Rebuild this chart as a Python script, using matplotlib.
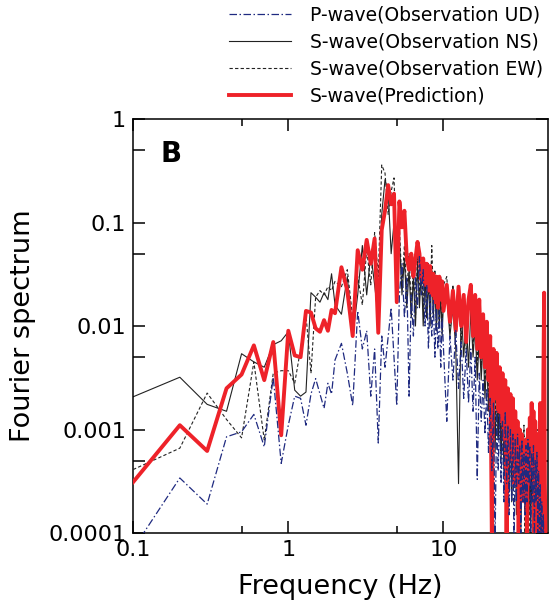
import matplotlib
matplotlib.use('Agg')
import matplotlib.pyplot as plt
from matplotlib.ticker import LogLocator, NullFormatter, FuncFormatter

plt.rcParams['font.family'] = ['DejaVu Sans']

# frequency grid (Hz)
freq_low = [0.1, 0.2, 0.3, 0.4, 0.5, 0.6, 0.7, 0.8, 0.9, 1.0,
            1.1, 1.2, 1.3, 1.4, 1.5, 1.6, 1.7, 1.8, 1.9, 2.0]
freq_mid = [2.2, 2.4, 2.6, 2.8, 3.0, 3.2, 3.4, 3.6, 3.8, 4.0,
            4.2, 4.4, 4.6, 4.8, 5.0, 5.2, 5.4, 5.6, 5.8, 6.0,
            6.2, 6.4, 6.6, 6.8, 7.0, 7.2, 7.4, 7.6, 7.8, 8.0,
            8.2, 8.4, 8.6, 8.8, 9.0, 9.2, 9.4, 9.6, 9.8, 10.0]
freq_high = [10.5, 11.0, 11.5, 12.0, 12.5, 13.0, 13.5, 14.0, 14.5, 15.0,
             15.5, 16.0, 16.5, 17.0, 17.5, 18.0, 18.5, 19.0, 19.5, 20.0,
             20.5, 21.0, 21.5, 22.0, 22.5, 23.0, 23.5, 24.0, 24.5, 25.0,
             25.5, 26.0, 26.5, 27.0, 27.5, 28.0, 28.5, 29.0, 29.5, 30.0,
             30.5, 31.0, 31.5, 32.0, 32.5, 33.0, 33.5, 34.0, 34.5, 35.0,
             35.5, 36.0, 36.5, 37.0, 37.5, 38.0, 38.5, 39.0, 39.5, 40.0,
             40.5, 41.0, 41.5, 42.0, 42.5, 43.0, 43.5, 44.0, 44.5, 45.0,
             45.5, 46.0, 46.5, 47.0, 47.5, 48.0]

# P-wave, observation UD
ud_low = [7e-5, 3.4e-4, 1.9e-4, 8.5e-4, 9.5e-4, 1.4e-3, 6.8e-4, 3.2e-3, 4.7e-4, 1.1e-3,
          2.1e-3, 2.0e-3, 1.1e-3, 2.2e-3, 3.1e-3, 2.2e-3, 1.6e-3, 2.8e-3, 2.2e-3, 4.7e-3]
ud_mid = [6.8e-3, 3.5e-3, 1.7e-3, 0.014, 0.006, 0.009, 2.1e-3, 0.006, 7.4e-4, 0.008,
          0.004, 0.0079, 0.015, 0.005, 1.7e-3, 0.02, 0.04, 0.012, 0.03, 2.1e-3,
          0.02, 0.008, 0.03, 0.015, 0.047, 0.02, 0.035, 0.01, 0.025, 0.006,
          0.02, 0.008, 0.018, 0.005, 0.015, 0.006, 0.014, 0.004, 0.012, 0.006]
ud_high = [0.0012, 0.008, 0.003, 0.009, 0.0025, 0.007, 0.002, 0.006, 0.0018, 0.006,
           0.0015, 0.005, 0.00033, 0.0035, 0.0012, 0.003, 0.0009, 0.0025, 0.0006, 0.002,
           0.0004, 0.0018, 0.00008, 0.0015, 0.0004, 0.0014, 0.0003, 0.0012, 0.0002, 0.0015,
           0.0003, 0.0011, 0.00015, 0.001, 0.0002, 0.0009, 0.00007, 0.0008, 0.0002, 0.0009,
           0.0003, 0.0007, 0.0001, 0.0008, 0.0002, 0.0006, 0.00015, 0.0007, 0.0002, 0.0008,
           0.0003, 0.0007, 0.0001, 0.0006, 0.0002, 0.0007, 0.00008, 0.0005, 0.0002, 0.0006,
           0.0001, 0.0004, 0.00007, 0.0003, 0.0001, 0.0002, 0.00007, 0.00015, 0.00006, 0.00006,
           0.00006, 0.00006, 0.00006, 0.00006, 0.00006, 0.00006]

# S-wave, observation NS
ns_low = [2.07e-3, 3.2e-3, 1.75e-3, 1.5e-3, 5.4e-3, 4.5e-3, 4.0e-3, 6.6e-3, 7.2e-3, 8.8e-3,
          2.4e-3, 2.1e-3, 2.3e-3, 0.021, 0.019, 0.017, 0.021, 0.018, 0.032, 0.016]
ns_mid = [0.013, 0.03, 0.008, 0.02, 0.06, 0.02, 0.05, 0.025, 0.012, 0.12,
          0.26, 0.2, 0.05, 0.1, 0.025, 0.07, 0.02, 0.045, 0.015, 0.035,
          0.012, 0.03, 0.01, 0.04, 0.015, 0.035, 0.01, 0.03, 0.012, 0.028,
          0.01, 0.035, 0.012, 0.025, 0.009, 0.022, 0.01, 0.02, 0.008, 0.018]
ns_high = [0.02, 0.008, 0.015, 0.006, 0.0003, 0.015, 0.005, 0.012, 0.004, 0.014,
           0.005, 0.01, 0.003, 0.008, 0.003, 0.007, 0.002, 0.005, 0.0015, 0.004,
           0.001, 0.0035, 0.0006, 0.003, 0.0008, 0.0025, 0.0005, 0.002, 0.0004, 0.0018,
           0.0003, 0.0015, 0.0004, 0.0013, 0.0002, 0.0012, 0.0003, 0.001, 0.00015, 0.0009,
           0.0002, 0.0008, 0.0001, 0.0007, 0.0002, 0.0008, 0.00015, 0.0006, 0.0002, 0.0007,
           0.00015, 0.0006, 0.0001, 0.0005, 0.0002, 0.0006, 0.00008, 0.0005, 0.00015, 0.0004,
           0.0001, 0.0004, 0.00007, 0.0003, 0.0001, 0.0002, 0.00007, 0.0002, 0.00006, 0.00006,
           0.00006, 0.00006, 0.00006, 0.00006, 0.00006, 0.00006]

# S-wave, observation EW
ew_low = [4.1e-4, 6.6e-4, 2.25e-3, 1.25e-3, 8.3e-4, 4.5e-3, 7.9e-4, 3.5e-3, 3.7e-3, 3.7e-3,
          2.8e-3, 6e-3, 0.0128, 3.5e-3, 0.019, 0.022, 0.02, 0.024, 0.022, 0.027]
ew_mid = [0.024, 0.035, 0.012, 0.03, 0.016, 0.055, 0.025, 0.08, 0.03, 0.36,
          0.3, 0.12, 0.2, 0.27, 0.04, 0.09, 0.025, 0.06, 0.02, 0.05,
          0.015, 0.04, 0.012, 0.05, 0.02, 0.045, 0.015, 0.035, 0.012, 0.04,
          0.015, 0.06, 0.02, 0.035, 0.012, 0.03, 0.01, 0.03, 0.01, 0.025]
ew_high = [0.03, 0.01, 0.025, 0.008, 0.022, 0.007, 0.018, 0.006, 0.016, 0.02,
           0.006, 0.015, 0.004, 0.012, 0.004, 0.01, 0.003, 0.008, 0.002, 0.006,
           0.0015, 0.0055, 0.001, 0.004, 0.0008, 0.0035, 0.0006, 0.003, 0.0005, 0.0025,
           0.0004, 0.002, 0.0003, 0.0018, 0.0002, 0.0015, 0.0003, 0.0013, 0.0002, 0.0011,
           0.0002, 0.001, 0.00015, 0.0009, 0.0002, 0.0011, 0.0001, 0.0008, 0.0002, 0.0009,
           0.0001, 0.0008, 0.0002, 0.0007, 0.0001, 0.0008, 0.00015, 0.0006, 0.0001, 0.0005,
           0.00015, 0.0005, 0.0001, 0.0004, 0.00008, 0.0003, 0.00007, 0.0002, 0.00006, 0.00006,
           0.00006, 0.00006, 0.00006, 0.00006, 0.00006, 0.00006]

# S-wave, prediction
pred_low = [3.1e-4, 1.1e-3, 6.2e-4, 2.5e-3, 3.4e-3, 6.5e-3, 3.0e-3, 7.0e-3, 8.8e-4, 9.0e-3,
            5.2e-3, 5.0e-3, 0.014, 0.0135, 0.0095, 0.0088, 0.0114, 0.009, 0.0143, 0.0133]
pred_mid = [0.037, 0.022, 0.008, 0.054, 0.035, 0.068, 0.04, 0.07, 0.0086, 0.085,
            0.13, 0.23, 0.15, 0.19, 0.017, 0.16, 0.09, 0.13, 0.045, 0.035,
            0.05, 0.03, 0.045, 0.065, 0.05, 0.028, 0.045, 0.025, 0.04, 0.022,
            0.038, 0.02, 0.032, 0.017, 0.03, 0.015, 0.03, 0.018, 0.027, 0.014]
pred_high = [0.025, 0.011, 0.022, 0.009, 0.024, 0.01, 0.02, 0.007, 0.018, 0.025,
             0.008, 0.02, 0.006, 0.018, 0.005, 0.013, 0.004, 0.011, 0.003, 0.008,
             0.00008, 0.006, 0.002, 0.0055, 0.0015, 0.004, 0.0012, 0.0035, 0.0008, 0.003,
             0.00007, 0.0025, 0.0006, 0.0022, 0.0005, 0.002, 0.0003, 0.0015, 0.0004, 0.0012,
             0.00008, 0.001, 0.0002, 0.0009, 0.0003, 0.0007, 0.0002, 0.0008, 0.00008, 0.001,
             0.0003, 0.0013, 0.0004, 0.0018, 0.0005, 0.0015, 0.00007, 0.0012, 0.0002, 0.0009,
             0.00007, 0.0006, 0.0002, 0.0018, 0.00008, 0.0005, 0.0002, 0.003, 0.021, 0.0003,
             0.00007, 0.00007, 0.00007, 0.00007, 0.00007, 0.00007]

freq = freq_low + freq_mid + freq_high
ud = ud_low + ud_mid + ud_high
ns = ns_low + ns_mid + ns_high
ew = ew_low + ew_mid + ew_high
pred = pred_low + pred_mid + pred_high

fig = plt.figure(figsize=(5.5, 6.06), dpi=100)
ax = fig.add_axes([0.242, 0.1205, 0.754, 0.683])

l_ns, = ax.plot(freq, ns, color='#222222', lw=0.8, label='S-wave(Observation NS)', zorder=2)
l_ew, = ax.plot(freq, ew, color='#222222', lw=0.8, dashes=(3, 2), label='S-wave(Observation EW)', zorder=3)
l_pred, = ax.plot(freq, pred, color='#ee2229', lw=2.8, label='S-wave(Prediction)', zorder=4)
l_ud, = ax.plot(freq, ud, color='#1f2a80', lw=0.9, dashes=(6, 2, 1.2, 2), label='P-wave(Observation UD)', zorder=5)

ax.set_xscale('log')
ax.set_yscale('log')
ax.set_xlim(0.1, 47)
ax.set_ylim(1e-4, 1)

fmt = FuncFormatter(lambda v, p: '{:g}'.format(v))
ax.xaxis.set_major_locator(LogLocator(base=10, subs=[1.0]))
ax.yaxis.set_major_locator(LogLocator(base=10, subs=[1.0]))
ax.xaxis.set_minor_locator(LogLocator(base=10, subs=[5.0]))
ax.yaxis.set_minor_locator(LogLocator(base=10, subs=[5.0]))
ax.xaxis.set_major_formatter(fmt)
ax.yaxis.set_major_formatter(fmt)
ax.xaxis.set_minor_formatter(NullFormatter())
ax.yaxis.set_minor_formatter(NullFormatter())

ax.tick_params(which='both', direction='in', top=True, right=True, width=1.1, labelsize=16, pad=5)
ax.tick_params(which='major', length=8.5)
ax.tick_params(axis='x', which='minor', length=5)
ax.tick_params(axis='y', which='minor', length=8.5)
for s in ax.spines.values():
    s.set_linewidth(1.1)

ax.set_xlabel('Frequency (Hz)', fontsize=19.5, labelpad=10)
ax.set_ylabel('Fourier spectrum', fontsize=19.5, labelpad=9)

ax.text(0.065, 0.915, 'B', transform=ax.transAxes, fontsize=20, fontweight='bold',
        ha='left', va='center')

fig.legend(handles=[l_ud, l_ns, l_ew, l_pred], loc='upper left', bbox_to_anchor=(0.40, 1.006),
           frameon=False, fontsize=13.5, handlelength=3.3, handletextpad=1.0,
           labelspacing=0.42, borderpad=0.0)

fig.savefig('out.png', dpi=100)
